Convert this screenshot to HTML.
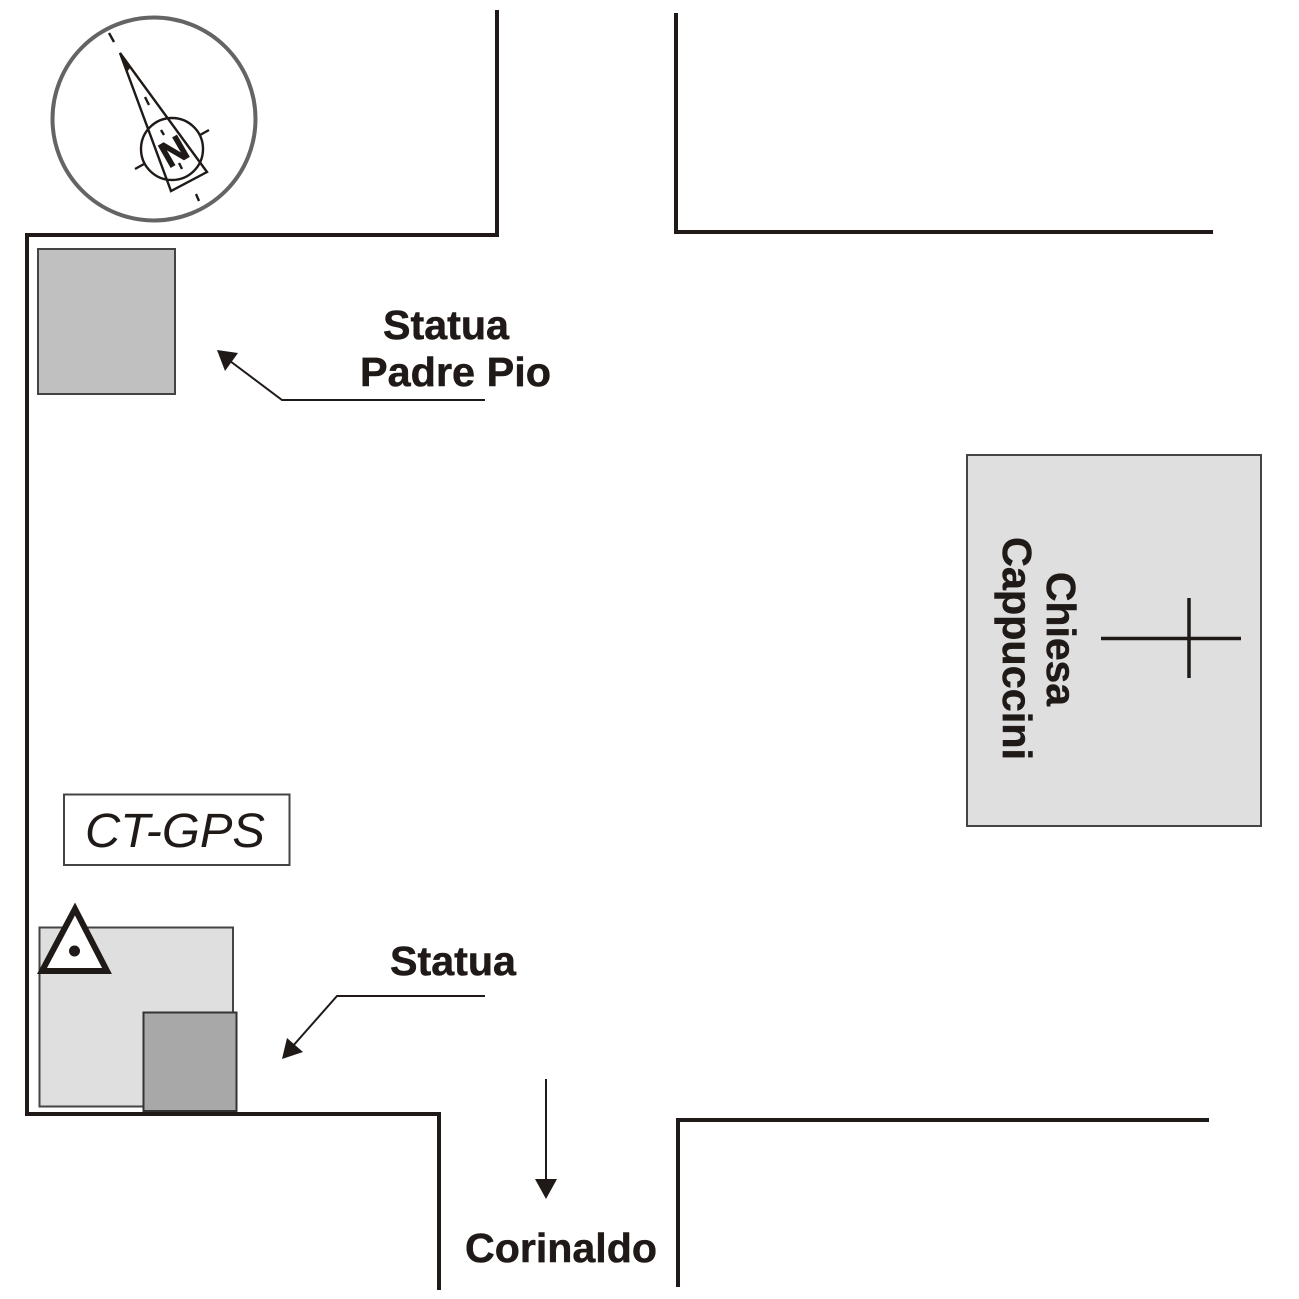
<!DOCTYPE html>
<html><head><meta charset="utf-8"><style>html,body{margin:0;padding:0;background:#fff}svg{display:block}text{font-family:"Liberation Sans",Arial,sans-serif;fill:#1f1a17}.b{font-weight:bold;font-size:41px;stroke:#1f1a17;stroke-width:.5}</style></head>
<body>
<svg width="1299" height="1299" viewBox="0 0 1299 1299" xmlns="http://www.w3.org/2000/svg">
<rect width="1299" height="1299" fill="#fff"/>
<!-- roads -->
<g fill="none" stroke="#1f1a17" stroke-width="4">
<path d="M497 10V235H27V1114H439V1290"/>
<path d="M676 13V232H1213"/>
<path d="M678 1287V1120H1209"/>
</g>
<!-- compass -->
<circle cx="154" cy="119" r="101.500" fill="#fff" stroke="#646464" stroke-width="4"/>
<g fill="none" stroke="#1f1a17" stroke-width="2.400">
<circle cx="172" cy="149" r="31"/>
<path d="M120 53L171 191L207 172Z"/>
<path d="M109 33L114 42M145 97L149 105M161 130L164 135M179 163L182 169M196 194L199 201"/>
<path d="M200 135L209 130M135 169L144 164"/>
</g>
<path d="M120 53L127 72L130 68Z" fill="#1f1a17"/>
<text x="0" y="0" font-size="36" font-weight="bold" text-anchor="middle" transform="translate(180 162) rotate(-30)" style="stroke:#1f1a17;stroke-width:1">N</text>
<!-- statue padre pio -->
<rect x="38" y="249" width="137" height="145" fill="#c0c0c0" stroke="#444" stroke-width="2"/>
<!-- labels -->
<text class="b" x="383" y="339" textLength="126" lengthAdjust="spacingAndGlyphs">Statua</text>
<text class="b" x="360" y="386" textLength="191" lengthAdjust="spacingAndGlyphs">Padre Pio</text>
<path d="M485 400H282L226 358" fill="none" stroke="#1f1a17" stroke-width="2"/>
<path d="M217 350L238 353L225 371Z" fill="#1f1a17"/>
<!-- church -->
<rect x="967" y="455" width="294" height="371" fill="#dfdfdf" stroke="#444" stroke-width="2"/>
<path d="M1101 638.500H1241M1189 598V678" fill="none" stroke="#1f1a17" stroke-width="3.500"/>
<text class="b" transform="translate(1047 572) rotate(90)" textLength="134" lengthAdjust="spacingAndGlyphs">Chiesa</text>
<text class="b" transform="translate(1003 537) rotate(90)" textLength="223" lengthAdjust="spacingAndGlyphs">Cappuccini</text>
<!-- CT-GPS -->
<rect x="64" y="794.500" width="225.500" height="70.500" fill="#fff" stroke="#444" stroke-width="2"/>
<text x="85" y="847" font-size="48" font-style="italic" textLength="180" lengthAdjust="spacingAndGlyphs">CT-GPS</text>
<!-- lower statue -->
<rect x="39.500" y="927.500" width="193.500" height="179" fill="#dfdfdf" stroke="#444" stroke-width="2"/>
<rect x="143.500" y="1012.500" width="93" height="98.500" fill="#a8a8a8" stroke="#333" stroke-width="2"/>
<path d="M75 909L107 971H42Z" fill="#fff" stroke="#1f1a17" stroke-width="6"/>
<circle cx="74.500" cy="951" r="5.500" fill="#1f1a17"/>
<text class="b" x="390" y="975" textLength="126" lengthAdjust="spacingAndGlyphs">Statua</text>
<path d="M485 996H337L292 1047" fill="none" stroke="#1f1a17" stroke-width="2"/>
<path d="M282 1059L287 1038L303 1052Z" fill="#1f1a17"/>
<!-- Corinaldo arrow -->
<path d="M546 1079V1182" fill="none" stroke="#1f1a17" stroke-width="2"/>
<path d="M535 1179H557L546 1199Z" fill="#1f1a17"/>
<text class="b" x="465" y="1262" textLength="192" lengthAdjust="spacingAndGlyphs">Corinaldo</text>
</svg>
</body></html>
